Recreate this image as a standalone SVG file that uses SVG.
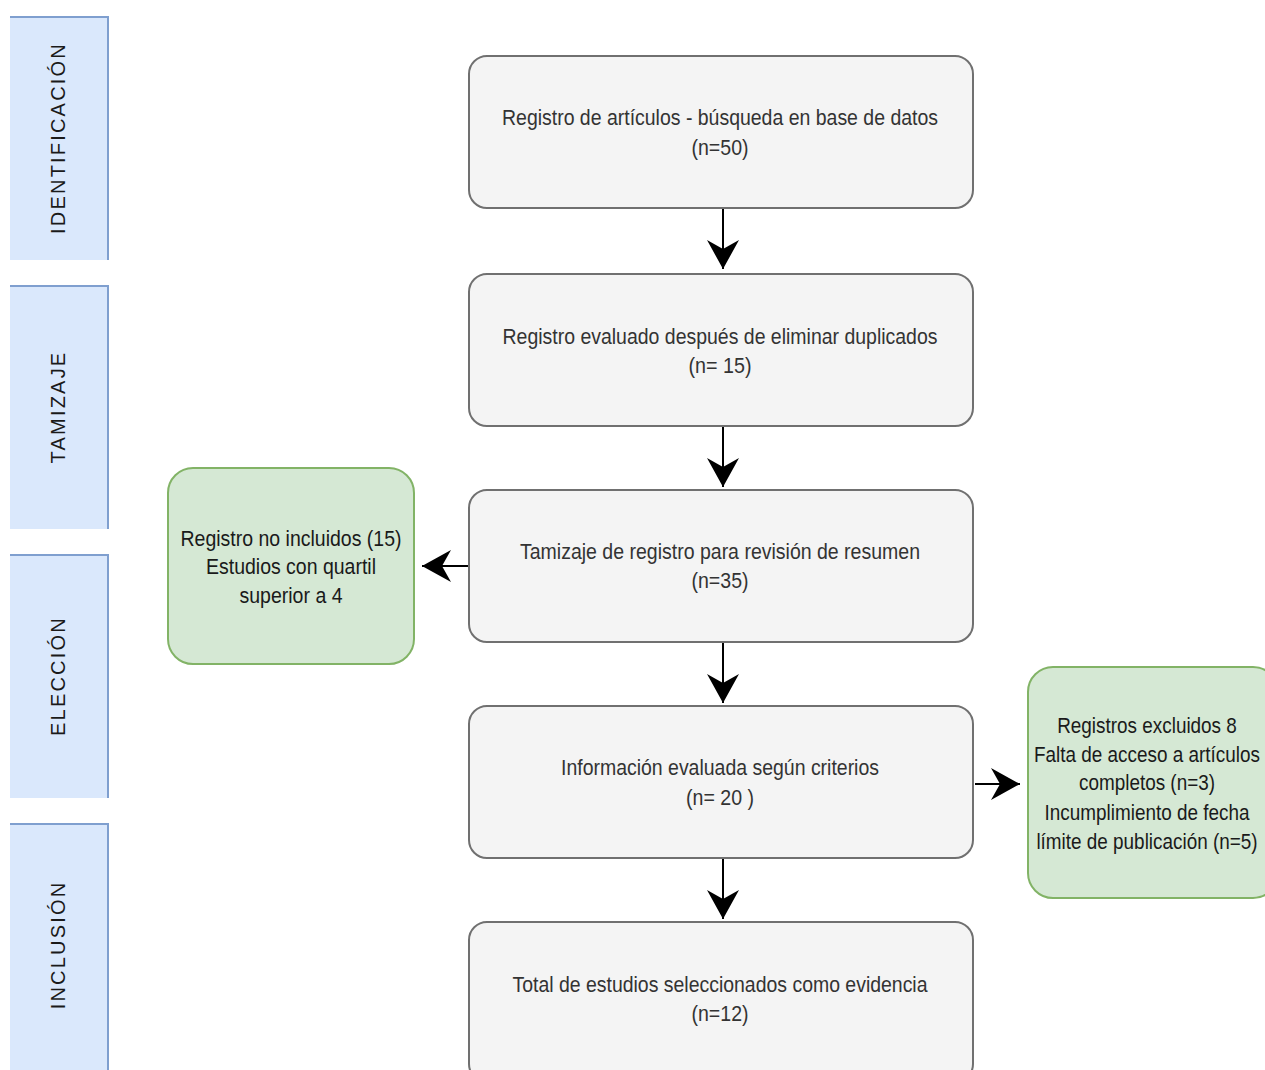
<svg xmlns="http://www.w3.org/2000/svg" width="1265" height="1070" viewBox="0 0 1265 1070">
<style>
.lane{fill:#dae8fc;}
.laneb{stroke:#7f9fcf;stroke-width:2;fill:none;}
.lt{font-family:"Liberation Sans",Arial,sans-serif;font-size:20px;letter-spacing:2.2px;fill:#1a1a1a;text-anchor:middle;dominant-baseline:central;}
.box{fill:#f4f4f4;stroke:#707070;stroke-width:2;}
.gbox{fill:#d5e8d4;stroke:#82b366;stroke-width:2;}
.t{font-family:"Liberation Sans",Arial,sans-serif;font-size:22px;fill:#333333;text-anchor:middle;}
.tg{font-family:"Liberation Sans",Arial,sans-serif;font-size:22px;fill:#1a1a1a;text-anchor:middle;}
.edge{stroke:#000;stroke-width:2;fill:none;}
</style>
<defs>
<marker id="arr" markerUnits="userSpaceOnUse" markerWidth="40" markerHeight="40" viewBox="-30 -20 32 40" refX="0" refY="0" orient="auto">
<path d="M0,0 L-29,-16 L-20,0 L-29,16 Z" fill="#000"/>
</marker>
</defs>
<rect width="1265" height="1070" fill="#ffffff"/>
<g id="lane-identificacion">
<rect class="lane" x="10" y="17" width="98" height="243"/>
<path class="laneb" d="M10,17 H108 V260"/>
<text class="lt" transform="translate(58,138) rotate(-90)">IDENTIFICACIÓN</text>
</g>
<g id="lane-tamizaje">
<rect class="lane" x="10" y="286" width="98" height="243"/>
<path class="laneb" d="M10,286 H108 V529"/>
<text class="lt" transform="translate(58,407) rotate(-90)">TAMIZAJE</text>
</g>
<g id="lane-eleccion">
<rect class="lane" x="10" y="555" width="98" height="243"/>
<path class="laneb" d="M10,555 H108 V798"/>
<text class="lt" transform="translate(58,676) rotate(-90)">ELECCIÓN</text>
</g>
<g id="lane-inclusion">
<rect class="lane" x="10" y="824" width="98" height="246"/>
<path class="laneb" d="M10,824 H108 V1070"/>
<text class="lt" transform="translate(58,945) rotate(-90)">INCLUSIÓN</text>
</g>
<g id="connectors">
<path class="edge" d="M723,208 V269" marker-end="url(#arr)"/>
<path class="edge" d="M723,426 V487" marker-end="url(#arr)"/>
<path class="edge" d="M723,642 V703" marker-end="url(#arr)"/>
<path class="edge" d="M723,858 V919" marker-end="url(#arr)"/>
<path class="edge" d="M468,566 H422" marker-end="url(#arr)"/>
<path class="edge" d="M975,784 H1020" marker-end="url(#arr)"/>
</g>
<g id="box1">
<rect class="box" x="469" y="56" width="504" height="152" rx="18"/>
<text class="t" x="720" y="125" textLength="436" lengthAdjust="spacingAndGlyphs">Registro de artículos - búsqueda en base de datos</text>
<text class="t" x="720" y="155" textLength="57" lengthAdjust="spacingAndGlyphs">(n=50)</text>
</g>
<g id="box2">
<rect class="box" x="469" y="274" width="504" height="152" rx="18"/>
<text class="t" x="720" y="344" textLength="435" lengthAdjust="spacingAndGlyphs">Registro evaluado después de eliminar duplicados</text>
<text class="t" x="720" y="373" textLength="63" lengthAdjust="spacingAndGlyphs">(n= 15)</text>
</g>
<g id="box3">
<rect class="box" x="469" y="490" width="504" height="152" rx="18"/>
<text class="t" x="720" y="559" textLength="400" lengthAdjust="spacingAndGlyphs">Tamizaje de registro para revisión de resumen</text>
<text class="t" x="720" y="588" textLength="57" lengthAdjust="spacingAndGlyphs">(n=35)</text>
</g>
<g id="box4">
<rect class="box" x="469" y="706" width="504" height="152" rx="18"/>
<text class="t" x="720" y="775" textLength="318" lengthAdjust="spacingAndGlyphs">Información evaluada según criterios</text>
<text class="t" x="720" y="805" textLength="68" lengthAdjust="spacingAndGlyphs">(n= 20 )</text>
</g>
<g id="box5">
<rect class="box" x="469" y="922" width="504" height="160" rx="18"/>
<text class="t" x="720" y="992" textLength="415" lengthAdjust="spacingAndGlyphs">Total de estudios seleccionados como evidencia</text>
<text class="t" x="720" y="1021" textLength="57" lengthAdjust="spacingAndGlyphs">(n=12)</text>
</g>
<g id="excluded-left">
<rect class="gbox" x="168" y="468" width="246" height="196" rx="25"/>
<text class="tg" x="291" y="546" textLength="221" lengthAdjust="spacingAndGlyphs">Registro no incluidos (15)</text>
<text class="tg" x="291" y="574" textLength="170" lengthAdjust="spacingAndGlyphs">Estudios con quartil</text>
<text class="tg" x="291" y="603" textLength="103" lengthAdjust="spacingAndGlyphs">superior a 4</text>
</g>
<g id="excluded-right">
<rect class="gbox" x="1028" y="667" width="250" height="231" rx="25"/>
<g transform="translate(1147,0) scale(0.86,1)">
<text class="tg" x="0" y="733">Registros excluidos 8</text>
<text class="tg" x="0" y="762">Falta de acceso a artículos</text>
<text class="tg" x="0" y="790">completos (n=3)</text>
<text class="tg" x="0" y="820">Incumplimiento de fecha</text>
<text class="tg" x="0" y="849">límite de publicación (n=5)</text>
</g>
</g>
</svg>
